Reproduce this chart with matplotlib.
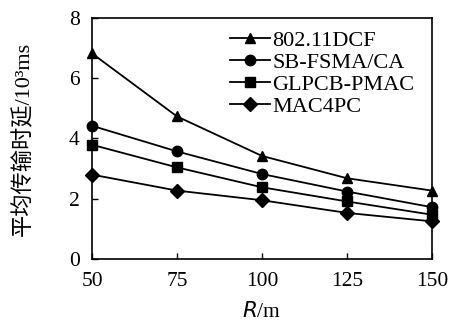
import matplotlib
matplotlib.use("Agg")
import matplotlib.pyplot as plt

R = [50, 75, 100, 125, 150]
dcf = [6.82, 4.73, 3.42, 2.68, 2.27]
sbfsma = [4.42, 3.57, 2.82, 2.24, 1.72]
glpcb = [3.79, 3.04, 2.38, 1.91, 1.47]
mac4pc = [2.80, 2.27, 1.95, 1.53, 1.25]
labels = ["802.11DCF", "SB-FSMA/CA", "GLPCB-PMAC", "MAC4PC"]
markers = ["^", "o", "s", "D"]

plt.rcParams['font.family'] = ['Liberation Serif', 'Noto Sans CJK SC']
fig = plt.figure(figsize=(4.49, 3.25), dpi=100)
ax = fig.add_axes([0.205, 0.203, 0.757, 0.742])

for ys, lab, m in zip([dcf, sbfsma, glpcb, mac4pc], labels, markers):
    ax.plot(R, ys, color='black', lw=1.3, marker=m,
            markersize=7.5 if m != 'D' else 7, label=lab, clip_on=False)

ax.set_xlim(50, 150)
ax.set_ylim(0, 8)
ax.set_xticks(R)
ax.set_yticks([0, 2, 4, 6, 8])
ax.tick_params(direction='in', labelsize=15.5, length=4, width=1, pad=9)
for s in ax.spines.values():
    s.set_linewidth(1.2)

ax.set_xlabel("$\\mathit{R}$/m", fontsize=15.5, labelpad=8)
ax.set_ylabel("平均传输时延/10³ms", fontsize=16,
              family=['Liberation Serif', 'Noto Sans CJK SC'])
ax.yaxis.set_label_coords(-0.17, 0.5)

ax.legend(loc='upper left', frameon=False, fontsize=16, handlelength=1.8,
          handletextpad=0.1, labelspacing=0.07, borderaxespad=0.0,
          bbox_to_anchor=(0.38, 0.985))

fig.savefig("out.png", dpi=100)
